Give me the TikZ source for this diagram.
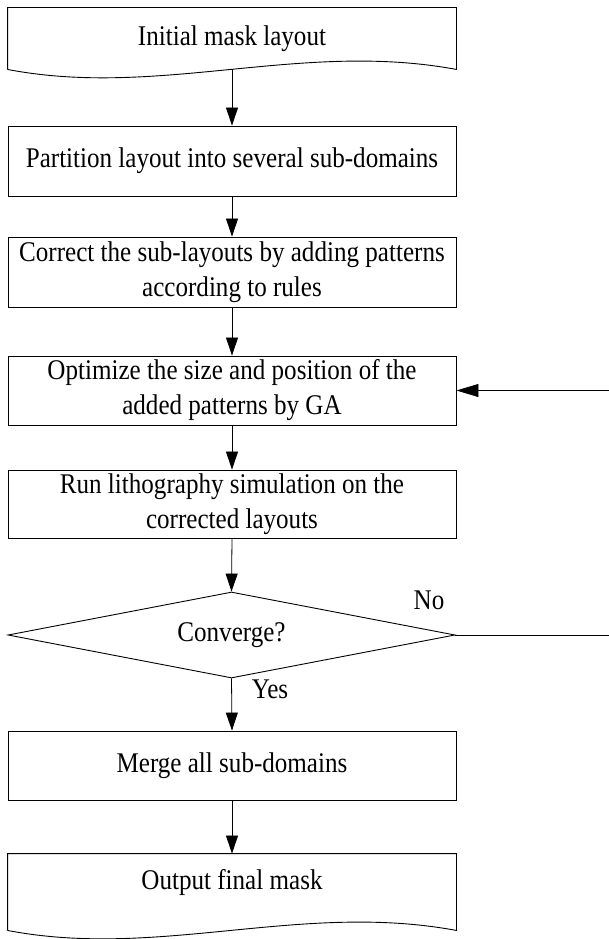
\documentclass[tikz,border=0pt]{standalone}
\usepackage{fontspec}
\setmainfont{Liberation Serif}[FakeStretch=0.88]
\usetikzlibrary{shapes.geometric,arrows.meta}
\tikzset{
  box/.style={draw,line width=0.9pt,minimum width=448pt,minimum height=70pt,inner sep=0pt,align=center,font=\fontsize{28.5}{35}\selectfont},
  docbox/.style={box,draw=none},
  decision/.style={diamond,draw,line width=0.9pt,aspect=5.2,minimum width=447pt,minimum height=86pt,inner sep=0pt,font=\fontsize{28.5}{35}\selectfont},
  tag/.style={inner sep=0pt,font=\fontsize{28.5}{35}\selectfont},
  flow/.style={line width=0.8pt,-{Triangle[length=18pt,width=12pt]}}
}
\begin{document}
\begin{tikzpicture}[x=1pt,y=-1pt]
\useasboundingbox (0,0) rectangle (609,939);
\node[docbox,minimum height=61pt] (init) at (232,38.5) {Initial mask layout};
\draw[line width=0.9pt] (init.south west) -- (init.north west) -- (init.north east) -- (init.south east)
  .. controls +(-156,-29) and +(152,29) .. (init.south west);
\node[box] (part) at (232,161) {Partition layout into several sub-domains};
\node[box] (corr) at (232,272) {Correct the sub-layouts by adding patterns\\according to rules};
\node[box,minimum height=69pt] (opt) at (232,390.5) {Optimize the size and position of the\\added patterns by GA};
\node[box,minimum height=68pt] (run) at (232,504) {Run lithography simulation on the\\corrected layouts};
\node[decision] (conv) at (231.5,635) {Converge?};
\node[box,minimum height=69pt] (merge) at (232,765.5) {Merge all sub-domains};
\node[docbox,minimum height=76pt,text depth=26pt] (out) at (232,892) {Output final mask};
\draw[line width=0.9pt] (out.south west) -- (out.north west) -- (out.north east) -- (out.south east)
  .. controls +(-156,-29) and +(152,29) .. (out.south west);
\node[tag] (no) at (429,600) {No};
\node[tag] (yes) at (270,689) {Yes};
\coordinate (back) at (612,635);
% main chain
\draw[flow] (init.south) -- (part.north);
\draw[flow] (part.south) -- (corr.north);
\draw[flow] (corr.south) -- (opt.north);
\draw[flow] (opt.south) -- (run.north);
\draw[flow] (run.south) -- (conv.north);
\draw[flow] (conv.south) -- (merge.north);
\draw[flow] (merge.south) -- (out.north);
% loop back
\draw[flow,-{Triangle[length=22pt,width=13pt]}] (conv.east) -- (back) |- (opt.east);
\end{tikzpicture}
\end{document}
